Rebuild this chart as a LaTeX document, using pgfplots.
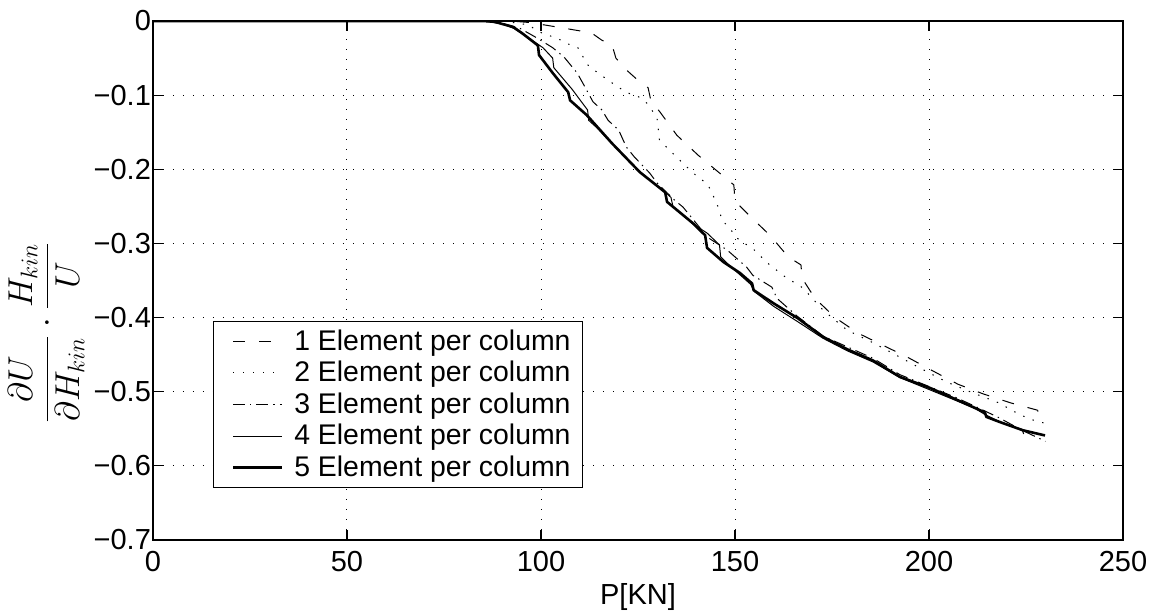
\documentclass[border=0pt]{standalone}
\usepackage{fontspec}
\setmainfont{Liberation Sans}
\usepackage{pgfplots}
\pgfplotsset{compat=1.18}
\begin{document}
\begin{tikzpicture}
\path[use as bounding box] (-76.5pt,-36.5pt) rectangle (499.5pt,270pt);
\begin{axis}[
  at={(0,0)}, anchor=south west,
  scale only axis, width=485pt, height=259.5pt,
  xmin=0, xmax=250, ymin=-0.7, ymax=0,
  xtick={0,50,100,150,200,250},
  ytick={-0.7,-0.6,-0.5,-0.4,-0.3,-0.2,-0.1,0},
  yticklabels={−0.7,−0.6,−0.5,−0.4,−0.3,−0.2,−0.1,0},
  /pgf/number format/assume math mode=true,
  tick align=inside, tick pos=both,
  major tick length=5pt,
  tick style={black, line width=0.6pt},
  axis line style={line width=0.6pt},
  grid=major,
  major grid style={black, line width=0.5pt, dash pattern=on 0.6pt off 4.4pt},
  ticklabel style={font=\fontsize{14.5}{16}\selectfont},
  xticklabel style={yshift=-2pt},
  yticklabel style={xshift=2.5pt},
  xlabel={P[KN]},
  xlabel style={font=\fontsize{14.5}{16}\selectfont, at={(axis description cs:0.5,0)}, anchor=center, yshift=-28.5pt},
  ylabel={$\displaystyle\frac{\partial U}{\partial H_{kin}}\cdot\frac{H_{kin}}{U}$},
  ylabel style={font=\fontsize{18}{21}\selectfont, at={(axis description cs:-0.11,0.40)}, anchor=center, rotate=0},
  legend style={at={(0.062,0.1)}, anchor=south west, draw=black, line width=0.6pt,
    font=\fontsize{14.2}{17}\selectfont, inner xsep=4pt, inner ysep=2pt, row sep=0pt},
  legend cell align=left,
  legend image code/.code={\path (-5pt,0pt); \draw[#1] (0pt,0pt) -- (24.5pt,0pt); \path (28pt,0pt);},
]
\addplot[black, line width=0.5pt, dash pattern=on 6pt off 7pt] coordinates {
(0,0) (92,0) (97,-0.002) (104,-0.008) (113,-0.016) (115.7,-0.026) (118.3,-0.032)
(119.3,-0.05) (122,-0.066) (125,-0.08) (127.6,-0.09) (128.3,-0.107) (130.7,-0.123)
(135,-0.154) (140.5,-0.181) (146,-0.205) (149.7,-0.221) (150,-0.243) (154,-0.264)
(159,-0.289) (163.7,-0.318) (167,-0.329) (167.3,-0.347) (170.6,-0.374) (175.8,-0.4)
(181.7,-0.421) (188,-0.437) (195,-0.455) (201,-0.472) (207.5,-0.49) (214,-0.503)
(221,-0.515) (228,-0.525) (228.2,-0.529)
};
\addlegendentry{1 Element per column}
\addplot[black, line width=0.5pt, dash pattern=on 0.7pt off 4.3pt] coordinates {
(0,0) (90,0) (96.6,-0.005) (99.7,-0.015) (104.4,-0.024) (107,-0.031) (109.5,-0.036)
(112,-0.059) (114.4,-0.069) (119.8,-0.089) (122.4,-0.097) (125.5,-0.103) (127.3,-0.111)
(129.9,-0.13) (130.5,-0.16) (132.5,-0.171) (136.6,-0.192) (140.5,-0.211) (142.8,-0.219)
(144,-0.231) (146,-0.255) (146.6,-0.269) (148.7,-0.279) (150,-0.291) (155,-0.309)
(158.5,-0.327) (162.9,-0.345) (167.5,-0.36) (172.7,-0.39) (178.9,-0.417) (185.6,-0.434)
(192,-0.452) (198,-0.469) (204.6,-0.487) (211,-0.501) (218,-0.515) (222,-0.527)
(226,-0.537) (229.5,-0.542)
};
\addlegendentry{2 Element per column}
\addplot[black, line width=0.5pt, dash pattern=on 6pt off 2.5pt on 0.7pt off 2.5pt] coordinates {
(0,0) (88,0) (94.6,-0.01) (99,-0.023) (103,-0.036) (106,-0.049) (109.3,-0.07)
(110.8,-0.084) (113.4,-0.109) (115.7,-0.12) (117.3,-0.134) (120,-0.147) (122,-0.17)
(124,-0.183) (128,-0.205) (130,-0.219) (134.5,-0.242) (136.6,-0.251) (143,-0.292)
(148,-0.309) (153,-0.332) (154.6,-0.343) (159.5,-0.359) (160.8,-0.374) (166,-0.398)
(172.7,-0.425) (185.6,-0.455) (192.5,-0.477) (200,-0.493) (207,-0.508) (212,-0.52)
(218,-0.535) (224,-0.552) (230,-0.567)
};
\addlegendentry{3 Element per column}
\addplot[black, line width=0.5pt] coordinates {
(0,0) (85,0) (90,-0.004) (93,-0.01) (96,-0.02) (100.5,-0.036) (103,-0.05)
(103.3,-0.063) (108,-0.092) (112,-0.12) (112.3,-0.134) (114.4,-0.144) (118.3,-0.165)
(125.5,-0.204) (131,-0.226) (133.5,-0.238) (134,-0.25) (139.2,-0.274) (142.8,-0.286)
(146,-0.302) (146.3,-0.318) (148,-0.327) (154,-0.355) (155,-0.365) (160,-0.385)
(166,-0.405) (172.7,-0.428) (179,-0.445) (185.6,-0.46) (192.5,-0.481) (200,-0.497)
(207,-0.512) (212,-0.523) (214.5,-0.531) (218,-0.54) (222,-0.548) (224,-0.551)
(224.4,-0.557)
};
\addlegendentry{4 Element per column}
\addplot[black, line width=1.3pt] coordinates {
(0,0) (85,0) (88,-0.001) (90,-0.004) (92.8,-0.008) (95,-0.016) (97,-0.024)
(99.2,-0.033) (99.5,-0.046) (103,-0.07) (107,-0.096) (107.5,-0.107) (111.8,-0.127)
(118.3,-0.165) (125.5,-0.204) (132,-0.231) (132.5,-0.244) (139.2,-0.273) (142.3,-0.289)
(142.8,-0.306) (147,-0.325) (151.3,-0.340) (154.4,-0.354) (154.8,-0.363) (160,-0.381)
(166.2,-0.401) (172.7,-0.426) (179,-0.443) (185.6,-0.458) (192.5,-0.480) (200.3,-0.495)
(207.2,-0.511) (211.9,-0.522) (214.4,-0.528) (214.8,-0.534) (218.3,-0.541)
(224.2,-0.552) (229.9,-0.559)
};
\addlegendentry{5 Element per column}
\end{axis}
\end{tikzpicture}
\end{document}
